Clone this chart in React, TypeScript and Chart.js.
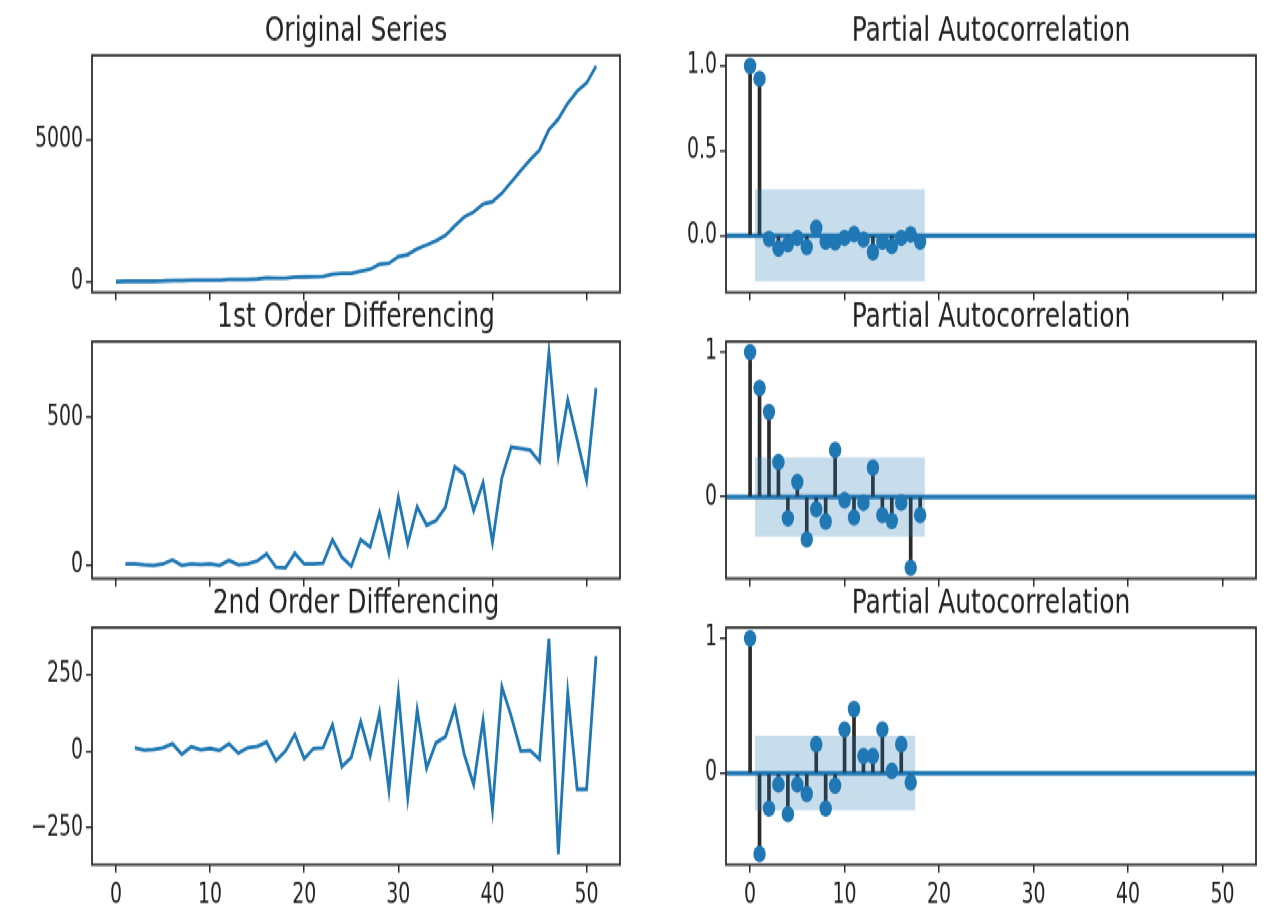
import React, { useEffect, useRef } from "react";
import { Chart, registerables } from "chart.js";

Chart.register(...registerables);

// The reference picture is stretched vertically; draw at a base height and stretch the same way.
const K = 1.35;
const BASE_H = 914 / K;

const BLUE = "#1f77b4";
const BAND = "rgba(31,119,180,0.25)";
const STEM = "#2a2a2a";
const AXIS = "#2e2e2e";
const TEXT = "#222222";
const FONT = "'DejaVu Sans', sans-serif";
const TICK_FONT = "'DejaVu Sans Condensed', 'DejaVu Sans', sans-serif";

// ---------------- data ----------------
const originalSeries = [
  20, 25, 30, 32, 32, 37, 56, 56, 61, 64, 69, 69, 86, 88, 93, 108, 147, 141, 133, 174,
  179, 184, 192, 278, 306, 303, 390, 452, 631, 672, 901, 974, 1172, 1308, 1459, 1655,
  1987, 2295, 2480, 2760, 2838, 3134, 3534, 3929, 4318, 4667, 5386, 5755, 6314, 6738,
  7025, 7623,
];
const firstDiff = [
  5, 5, 2, 0, 5, 19, 0, 5, 3, 5, 0, 17, 2, 5, 15, 39, -6, -8, 41, 5, 5, 8, 86, 28, -3,
  87, 62, 179, 41, 229, 73, 198, 136, 151, 196, 332, 308, 185, 280, 78, 296, 400, 395,
  389, 349, 719, 369, 559, 424, 287, 598,
];
const secondDiff = [
  11, 3, 5, 11, 24, -11, 14, 4, 9, 2, 24, -7, 11, 15, 29, -32, 0, 54, -25, 9, 11, 86,
  -51, -21, 96, -16, 125, -128, 190, -152, 134, -56, 27, 46, 141, -11, -109, 100, -191,
  209, 112, 0, 2, -27, 366, -335, 190, -125, -125, 308,
];
const pacfOriginal = [
  1.0, 0.925, -0.02, -0.077, -0.053, -0.014, -0.069, 0.045, -0.037, -0.041, -0.014, 0.008,
  -0.024, -0.098, -0.037, -0.063, -0.014, 0.006, -0.037,
];
const pacfFirst = [
  1.0, 0.754, 0.588, 0.241, -0.147, 0.103, -0.294, -0.085, -0.17, 0.324, -0.023, -0.143,
  -0.041, 0.202, -0.126, -0.166, -0.039, -0.49, -0.126,
];
const pacfSecond = [
  1.0, -0.6, -0.263, -0.085, -0.305, -0.085, -0.154, 0.215, -0.263, -0.093, 0.324, 0.476,
  0.127, 0.127, 0.324, 0.017, 0.215, -0.068,
];
const confOriginal = 0.272;
const confFirst = 0.274;
const confSecond = 0.277;

const xTicks = [0, 10, 20, 30, 40, 50];
const xTickLabels = ["0", "10", "20", "30", "40", "50"];
const yTicksOriginal = [0, 5000];
const yLabelsOriginal = ["0", "5000"];
const yTicksFirst = [0, 500];
const yLabelsFirst = ["0", "500"];
const yTicksSecond = [-250, 0, 250];
const yLabelsSecond = ["\u2212250", "0", "250"];
const yTicksPacfOriginal = [0, 0.5, 1];
const yLabelsPacfOriginal = ["0.0", "0.5", "1.0"];
const yTicksPacfFirst = [0, 1];
const yLabelsPacfFirst = ["0", "1"];
const yTicksPacfSecond = [0, 1];
const yLabelsPacfSecond = ["0", "1"];

const titleOriginal = "Original Series";
const titleFirst = "1st Order Differencing";
const titleSecond = "2nd Order Differencing";
const titlePacf = "Partial Autocorrelation";

// ---------------- layout (reference pixels) ----------------
const ROW_TOP = [56, 342, 628];
const ROW_BOTTOM = [293, 579, 865];
const COL_LEFT = [92, 726];
const COL_RIGHT = [620, 1256];
const CANVAS_X = [0, 640];
const CANVAS_W = [640, 634];
const PAD_V = 40;
const YW = 70;
const XH = 34;

const X_MIN = -0.05 * (originalSeries.length - 1);
const X_MAX = (originalSeries.length - 1) * 1.05;

function range(vals: number[]) {
  const lo = Math.min(...vals);
  const hi = Math.max(...vals);
  const m = (hi - lo) * 0.05;
  return [lo - m, hi + m];
}

const framePlugin = {
  id: "frame",
  beforeDatasetsDraw(chart: any, _a: any, opts: any) {
    if (!opts.zero) return;
    const { ctx, chartArea } = chart;
    const y = chart.scales.y.getPixelForValue(0);
    ctx.save();
    ctx.strokeStyle = BLUE;
    ctx.lineWidth = 3.4;
    ctx.beginPath();
    ctx.moveTo(chartArea.left, y);
    ctx.lineTo(chartArea.right, y);
    ctx.stroke();
    ctx.restore();
  },
  afterDraw(chart: any, _a: any, opts: any) {
    const { ctx, chartArea } = chart;
    ctx.save();
    ctx.strokeStyle = AXIS;
    ctx.lineWidth = 1.8;
    ctx.strokeRect(
      chartArea.left,
      chartArea.top,
      chartArea.right - chartArea.left,
      chartArea.bottom - chartArea.top
    );
    ctx.fillStyle = TEXT;
    ctx.font = `25px ${FONT}`;
    ctx.textAlign = "center";
    ctx.textBaseline = "alphabetic";
    ctx.fillText(opts.title || "", (chartArea.left + chartArea.right) / 2, chartArea.top - 11);
    ctx.restore();
  },
};

type PanelSpec = {
  row: number;
  col: number;
  title: string;
  kind: "line" | "pacf";
  values: number[];
  start: number;
  conf?: number;
  yTicks: number[];
  yLabels: string[];
};

const panels: PanelSpec[] = [
  { row: 0, col: 0, title: titleOriginal, kind: "line", values: originalSeries, start: 0, yTicks: yTicksOriginal, yLabels: yLabelsOriginal },
  { row: 0, col: 1, title: titlePacf, kind: "pacf", values: pacfOriginal, start: 0, conf: confOriginal, yTicks: yTicksPacfOriginal, yLabels: yLabelsPacfOriginal },
  { row: 1, col: 0, title: titleFirst, kind: "line", values: firstDiff, start: 1, yTicks: yTicksFirst, yLabels: yLabelsFirst },
  { row: 1, col: 1, title: titlePacf, kind: "pacf", values: pacfFirst, start: 0, conf: confFirst, yTicks: yTicksPacfFirst, yLabels: yLabelsPacfFirst },
  { row: 2, col: 0, title: titleSecond, kind: "line", values: secondDiff, start: 2, yTicks: yTicksSecond, yLabels: yLabelsSecond },
  { row: 2, col: 1, title: titlePacf, kind: "pacf", values: pacfSecond, start: 0, conf: confSecond, yTicks: yTicksPacfSecond, yLabels: yLabelsPacfSecond },
];

function Panel({ spec }: { spec: PanelSpec }) {
  const ref = useRef<HTMLCanvasElement>(null);
  const top = ROW_TOP[spec.row] / K - PAD_V;
  const height = Math.round((ROW_BOTTOM[spec.row] - ROW_TOP[spec.row]) / K + 2 * PAD_V);
  const width = CANVAS_W[spec.col];
  const left = CANVAS_X[spec.col];
  const isBottom = spec.row === 2;

  useEffect(() => {
    if (!ref.current) return;
    const pts = spec.values.map((v, i) => ({ x: spec.start + i, y: v }));
    let yr: number[];
    const datasets: any[] = [];
    if (spec.kind === "line") {
      yr = range(spec.values);
      datasets.push({
        type: "scatter",
        data: pts,
        showLine: true,
        pointRadius: 0,
        borderColor: BLUE,
        borderWidth: 2.8,
        backgroundColor: BLUE,
      });
    } else {
      const c = spec.conf as number;
      yr = range([...spec.values, c, -c]);
      const bandX0 = spec.start + 1 - 0.5;
      const bandX1 = spec.start + spec.values.length - 1 + 0.5;
      datasets.push({
        type: "scatter",
        data: pts,
        pointRadius: 6.2,
        pointBackgroundColor: BLUE,
        pointBorderWidth: 0,
        backgroundColor: BLUE,
      });
      datasets.push({
        type: "line",
        data: [
          { x: bandX0, y: c },
          { x: bandX1, y: c },
        ],
        borderWidth: 0,
        pointRadius: 0,
        backgroundColor: BAND,
        fill: "+1",
      });
      datasets.push({
        type: "line",
        data: [
          { x: bandX0, y: -c },
          { x: bandX1, y: -c },
        ],
        borderWidth: 0,
        pointRadius: 0,
        fill: false,
      });
      datasets.push({
        type: "bar",
        data: pts.map((p) => ({ x: p.x, y: [0, p.y] })),
        backgroundColor: STEM,
        barThickness: 3,
        grouped: false,
        borderWidth: 0,
      });
    }

    const chart = new Chart(ref.current, {
      type: "scatter",
      data: { datasets },
      plugins: [framePlugin],
      options: {
        animation: false,
        responsive: false,
        devicePixelRatio: 1,
        events: [],
        layout: {
          padding: {
            left: COL_LEFT[spec.col] - CANVAS_X[spec.col] - YW,
            right: CANVAS_X[spec.col] + CANVAS_W[spec.col] - COL_RIGHT[spec.col],
            top: PAD_V,
            bottom: height - PAD_V - (ROW_BOTTOM[spec.row] - ROW_TOP[spec.row]) / K - XH,
          },
        },
        plugins: {
          legend: { display: false },
          tooltip: { enabled: false },
          title: { display: false },
          frame: { title: spec.title, zero: spec.kind === "pacf" },
        } as any,
        scales: {
          x: {
            type: "linear",
            min: X_MIN,
            max: X_MAX,
            offset: false,
            bounds: "data",
            grid: {
              display: true,
              drawOnChartArea: false,
              drawTicks: true,
              tickLength: 6,
              color: AXIS,
              lineWidth: 1.5,
              offset: false,
            },
            border: { display: false },
            afterBuildTicks: (axis: any) => {
              axis.ticks = xTicks.map((v) => ({ value: v }));
            },
            afterFit: (axis: any) => {
              axis.height = XH;
            },
            ticks: {
              display: isBottom,
              autoSkip: false,
              maxRotation: 0,
              padding: 4,
              color: TEXT,
              font: { family: TICK_FONT, size: 21 },
              callback: (v: any) => xTickLabels[xTicks.indexOf(Number(v))] ?? "",
            },
          },
          y: {
            type: "linear",
            min: yr[0],
            max: yr[1],
            bounds: "data",
            grid: {
              display: true,
              drawOnChartArea: false,
              drawTicks: true,
              tickLength: 6,
              color: AXIS,
              lineWidth: 1.5,
            },
            border: { display: false },
            afterBuildTicks: (axis: any) => {
              axis.ticks = spec.yTicks.map((v) => ({ value: v }));
            },
            afterFit: (axis: any) => {
              axis.width = YW;
            },
            ticks: {
              autoSkip: false,
              padding: 3,
              color: TEXT,
              font: { family: TICK_FONT, size: 21 },
              callback: (v: any) => spec.yLabels[spec.yTicks.indexOf(Number(v))] ?? "",
            },
          },
        },
      } as any,
    });
    return () => chart.destroy();
  }, []);

  return (
    <canvas
      ref={ref}
      width={width}
      height={height}
      style={{ position: "absolute", left, top, width, height }}
    />
  );
}

export default function App() {
  useEffect(() => {
    document.body.style.margin = "0";
  }, []);
  return (
    <div
      style={{
        position: "absolute",
        left: 0,
        top: 0,
        width: 1274,
        height: BASE_H,
        transform: `scaleY(${K})`,
        transformOrigin: "0 0",
        background: "#ffffff",
      }}
    >
      {panels.map((p, i) => (
        <Panel key={i} spec={p} />
      ))}
    </div>
  );
}
